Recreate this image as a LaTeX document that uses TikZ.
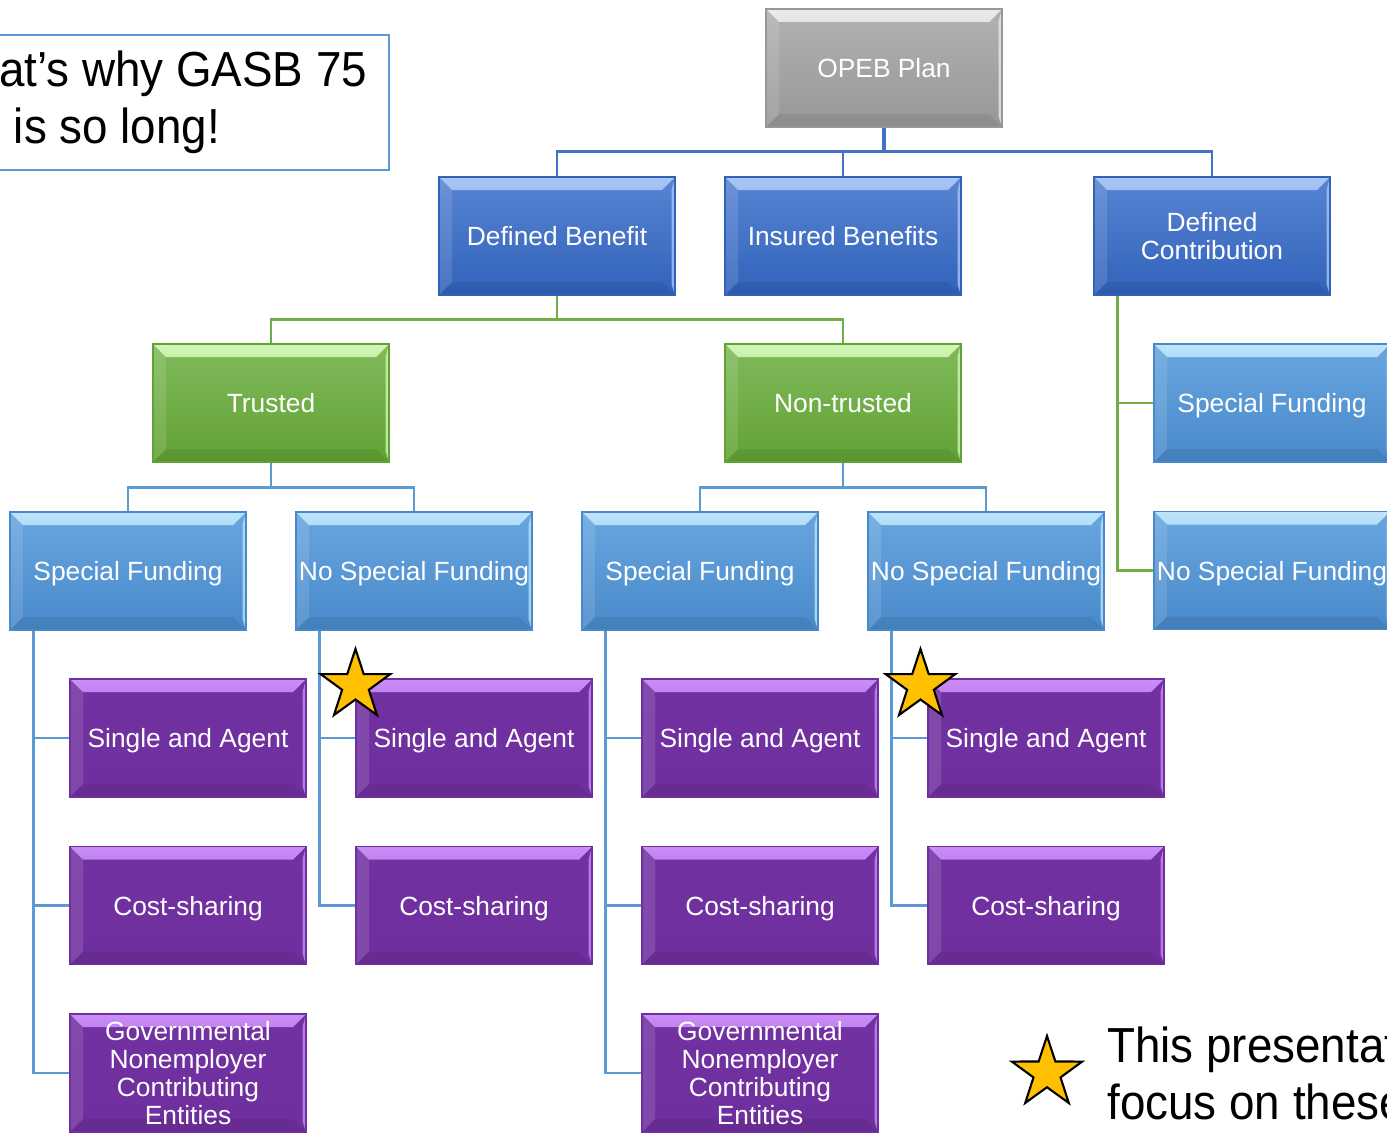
\documentclass[tikz,border=0pt]{standalone}
\usepackage{fontspec}
\setmainfont{Liberation Sans}
\newfontfamily\noteface[FakeStretch=0.93]{Liberation Sans}
\usetikzlibrary{positioning, shapes.geometric}
\definecolor{grayTop}{HTML}{B2B2B2}
\definecolor{grayBot}{HTML}{979797}
\definecolor{grayHi}{HTML}{EBEBEB}
\definecolor{dbTop}{HTML}{5885D3}
\definecolor{dbBot}{HTML}{3162BA}
\definecolor{dbHi}{HTML}{A9C6F5}
\definecolor{grTop}{HTML}{80BA5C}
\definecolor{grBot}{HTML}{62A233}
\definecolor{grHi}{HTML}{D2F7B4}
\definecolor{lbTop}{HTML}{68A6DF}
\definecolor{lbBot}{HTML}{4889CA}
\definecolor{lbHi}{HTML}{BDE4FB}
\definecolor{puTop}{HTML}{7131A1}
\definecolor{puBot}{HTML}{6F2F9E}
\definecolor{puHi}{HTML}{CB8DF7}
\definecolor{linkBlue}{HTML}{4472C4}
\definecolor{linkGreen}{HTML}{70AD47}
\definecolor{linkLight}{HTML}{5B9BD5}
\definecolor{starGold}{HTML}{FFC000}
\newcommand{\boxfont}{\fontsize{15}{16}\selectfont}
\newcommand{\bigfont}{\noteface\fontsize{28}{32.5}\selectfont}
\tikzset{
    chartbox/.style n args={3}{rectangle, minimum width=4.72cm, minimum height=2.36cm, inner sep=0pt,
        align=center, text=white, font=\boxfont, text depth=0pt, top color=#1, bottom color=#2, draw=#2, line width=0.6pt,
        path picture={
            \shade[top color=#3, bottom color=#1] (path picture bounding box.north west) -- (path picture bounding box.north east)
                -- ([shift={(-0.26,-0.26)}]path picture bounding box.north east) -- ([shift={(0.26,-0.26)}]path picture bounding box.north west) -- cycle;
            \fill[#3, opacity=0.8] (path picture bounding box.north east) -- (path picture bounding box.south east)
                -- ([shift={(-0.07,0.22)}]path picture bounding box.south east) -- ([shift={(-0.07,-0.26)}]path picture bounding box.north east) -- cycle;
            \fill[white, opacity=0.12] (path picture bounding box.north west) -- (path picture bounding box.south west)
                -- ([shift={(0.26,0.26)}]path picture bounding box.south west) -- ([shift={(0.26,-0.26)}]path picture bounding box.north west) -- cycle;
            \fill[black, opacity=0.07] (path picture bounding box.south west) -- (path picture bounding box.south east)
                -- ([shift={(-0.26,0.26)}]path picture bounding box.south east) -- ([shift={(0.26,0.26)}]path picture bounding box.south west) -- cycle;
        }},
    planbox/.style={chartbox={grayTop}{grayBot}{grayHi}},
    typebox/.style={chartbox={dbTop}{dbBot}{dbHi}},
    trustbox/.style={chartbox={grTop}{grBot}{grHi}},
    fundbox/.style={chartbox={lbTop}{lbBot}{lbHi}},
    employerbox/.style={chartbox={puTop}{puBot}{puHi}},
    planlink/.style={draw=linkBlue, line width=1.6pt},
    trustlink/.style={draw=linkGreen, line width=1.6pt},
    fundlink/.style={draw=linkLight, line width=1.6pt},
    goldstar/.style={star, star points=5, star point ratio=2.6, minimum size=1.46cm, inner sep=0pt,
        fill=starGold, draw=black, line width=1.2pt}
}

\begin{document}
\begin{tikzpicture}[node distance=3.35cm, on grid]
  \useasboundingbox (0,0) rectangle (27.74,-22.66);
  \clip (0,0) rectangle (27.74,-22.66);

  % plan and its three kinds
  \node[planbox] (opeb) at (17.68,-1.36) {OPEB Plan};
  \node[typebox, below left = 3.36cm and 6.54cm of opeb] (db) {Defined Benefit};
  \node[typebox, below left = 3.36cm and 0.82cm of opeb] (ib) {Insured Benefits};
  \node[typebox, below right = 3.36cm and 6.56cm of opeb] (dc) {Defined\\Contribution};

  % trusted / non-trusted
  \node[trustbox, below left = 3.34cm and 5.72cm of db] (trusted) {Trusted};
  \node[trustbox, below right = 3.34cm and 5.72cm of db] (nontrusted) {Non-trusted};
  \node[fundbox, below right = 3.34cm and 1.2cm of dc] (dcsf) {Special Funding};
  \node[fundbox, below = of dcsf] (dcnsf) {No Special Funding};

  % funding
  \node[fundbox, below left = 3.36cm and 2.86cm of trusted] (tsf) {Special Funding};
  \node[fundbox, below right = 3.36cm and 2.86cm of trusted] (tnsf) {No Special Funding};
  \node[fundbox, below left = 3.36cm and 2.86cm of nontrusted] (nsf) {Special Funding};
  \node[fundbox, below right = 3.36cm and 2.86cm of nontrusted] (nnsf) {No Special Funding};

  % employers
  \node[employerbox, below right = 3.34cm and 1.2cm of tsf] (tsfsa) {Single and Agent};
  \node[employerbox, below = of tsfsa] (tsfcs) {Cost-sharing};
  \node[employerbox, below = of tsfcs] (tsfgov) {Governmental\\Nonemployer\\Contributing\\Entities};
  \node[employerbox, below right = 3.34cm and 1.2cm of tnsf] (tnsfsa) {Single and Agent};
  \node[employerbox, below = of tnsfsa] (tnsfcs) {Cost-sharing};
  \node[employerbox, below right = 3.34cm and 1.2cm of nsf] (nsfsa) {Single and Agent};
  \node[employerbox, below = of nsfsa] (nsfcs) {Cost-sharing};
  \node[employerbox, below = of nsfcs] (nsfgov) {Governmental\\Nonemployer\\Contributing\\Entities};
  \node[employerbox, below right = 3.34cm and 1.2cm of nnsf] (nnsfsa) {Single and Agent};
  \node[employerbox, below = of nnsfsa] (nnsfcs) {Cost-sharing};

  % links
  \draw[planlink, line width=2.2pt] (opeb.south) -- ++(0,-0.48);
  \draw[planlink] (opeb.south) -- ++(0,-0.48) -| (db.north);
  \draw[planlink] (opeb.south) -- ++(0,-0.48) -| (ib.north);
  \draw[planlink] (opeb.south) -- ++(0,-0.48) -| (dc.north);
  \draw[trustlink] (db.south) -- ++(0,-0.48) -| (trusted.north);
  \draw[trustlink] (db.south) -- ++(0,-0.48) -| (nontrusted.north);
  \draw[trustlink] ([xshift=0.48cm]dc.south west) |- (dcsf.west);
  \draw[trustlink] ([xshift=0.48cm]dc.south west) |- (dcnsf.west);
  \draw[fundlink] (trusted.south) -- ++(0,-0.5) -| (tsf.north);
  \draw[fundlink] (trusted.south) -- ++(0,-0.5) -| (tnsf.north);
  \draw[fundlink] (nontrusted.south) -- ++(0,-0.5) -| (nsf.north);
  \draw[fundlink] (nontrusted.south) -- ++(0,-0.5) -| (nnsf.north);
  \draw[fundlink] ([xshift=0.48cm]tsf.south west) |- (tsfsa.west);
  \draw[fundlink] ([xshift=0.48cm]tsf.south west) |- (tsfcs.west);
  \draw[fundlink] ([xshift=0.48cm]tsf.south west) |- (tsfgov.west);
  \draw[fundlink] ([xshift=0.48cm]tnsf.south west) |- (tnsfsa.west);
  \draw[fundlink] ([xshift=0.48cm]tnsf.south west) |- (tnsfcs.west);
  \draw[fundlink] ([xshift=0.48cm]nsf.south west) |- (nsfsa.west);
  \draw[fundlink] ([xshift=0.48cm]nsf.south west) |- (nsfcs.west);
  \draw[fundlink] ([xshift=0.48cm]nsf.south west) |- (nsfgov.west);
  \draw[fundlink] ([xshift=0.48cm]nnsf.south west) |- (nnsfsa.west);
  \draw[fundlink] ([xshift=0.48cm]nnsf.south west) |- (nnsfcs.west);

  % stars
  \node[goldstar] (star1) at ([yshift=-0.14cm]tnsfsa.north west) {};
  \node[goldstar] (star2) at ([shift={(-0.14,-0.14)}]nnsfsa.north west) {};

  % notes
  \node[draw=linkLight, line width=1.2pt, minimum width=10.88cm, minimum height=2.7cm,
        align=center, font=\bigfont] (note) at (2.34,-2.05) {And that’s why GASB 75\\is so long!};
  \node[goldstar, minimum size=1.48cm] (keystar) at (20.94,-21.46) {};
  \node[anchor=west, align=left, inner sep=0pt, font=\bigfont] (keytext) at (22.14,-21.46)
      {This presentation\\focus on these};
\end{tikzpicture}
\end{document}
